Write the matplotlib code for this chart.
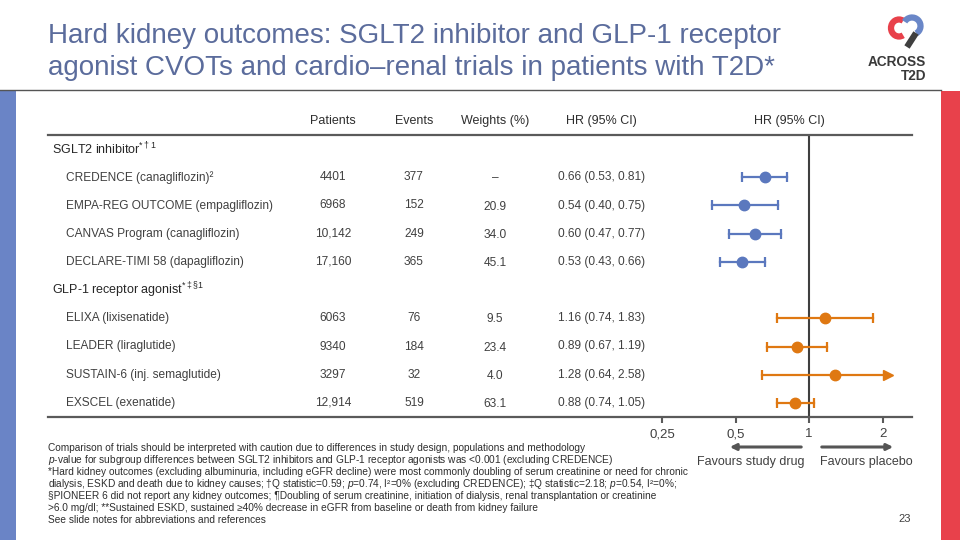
import numpy as np
import matplotlib
matplotlib.use("Agg")
import matplotlib.pyplot as plt
from matplotlib import transforms
from matplotlib.patches import Rectangle, Arc

plt.rcParams['font.family'] = ['Liberation Sans', 'DejaVu Sans']
plt.rcParams['mathtext.fontset'] = 'custom'
plt.rcParams['mathtext.rm'] = 'Liberation Sans'
plt.rcParams['mathtext.it'] = 'Liberation Sans:italic'
plt.rcParams['mathtext.bf'] = 'Liberation Sans:bold'

# ---------------- data ----------------
groups = [r"SGLT2 inhibitor$^{*\dagger 1}$", r"GLP-1 receptor agonist$^{*\ddagger\S 1}$"]
sglt2_trials = ["CREDENCE (canagliflozin)²", "EMPA-REG OUTCOME (empagliflozin)",
                "CANVAS Program (canagliflozin)", "DECLARE-TIMI 58 (dapagliflozin)"]
glp1_trials = ["ELIXA (lixisenatide)", "LEADER (liraglutide)",
               "SUSTAIN-6 (inj. semaglutide)", "EXSCEL (exenatide)"]
patients = [4401, 6968, 10142, 17160, 6063, 9340, 3297, 12914]
events = [377, 152, 249, 365, 76, 184, 32, 519]
weights = [None, 20.9, 34.0, 45.1, 9.5, 23.4, 4.0, 63.1]
hr = [0.66, 0.54, 0.60, 0.53, 1.16, 0.89, 1.28, 0.88]
ci_lo = [0.53, 0.40, 0.47, 0.43, 0.74, 0.67, 0.64, 0.74]
ci_hi = [0.81, 0.75, 0.77, 0.66, 1.83, 1.19, 2.58, 1.05]
x_clip = 2.1
ticks = [0.25, 0.5, 1, 2]
tick_labels = ["0,25", "0,5", "1", "2"]
headers = ["Patients", "Events", "Weights (%)", "HR (95% CI)"]

BLUE = '#5B78BE'
ORANGE = '#DF7812'
DARK = '#3F3F3F'
TXT = '#404040'
TITLE = '#5B6C9C'

fig = plt.figure(figsize=(9.6, 5.4), dpi=100)

# background canvas in pixel coordinates
bg = fig.add_axes([0, 0, 1, 1])
bg.set_xlim(0, 960)
bg.set_ylim(540, 0)
bg.axis('off')

bg.add_patch(Rectangle((0, 91), 16, 449, color='#6A84C6', lw=0))
bg.add_patch(Rectangle((941, 91), 19, 449, color='#E8414B', lw=0))
bg.plot([0, 941], [90, 90], color='#555555', lw=1.0)

bg.text(48, 36, "Hard kidney outcomes: SGLT2 inhibitor and GLP-1 receptor",
        fontsize=20, color=TITLE, va='center', ha='left')
bg.text(48, 68, "agonist CVOTs and cardio\u2013renal trials in patients with T2D*",
        fontsize=20, color=TITLE, va='center', ha='left')

# logo
bg.add_patch(Arc((899, 28), 16, 17, theta1=60, theta2=300, color='#E8414B', lw=4.5))
bg.add_patch(Arc((912, 26), 17, 17, theta1=-150, theta2=60, color='#6A87C8', lw=4.5))
bg.plot([916, 907], [33, 47], color='#3F3F3F', lw=4.5, solid_capstyle='butt')
bg.text(926, 62, "ACROSS", fontsize=9.8, fontweight='bold', color='#3A3A3A',
        ha='right', va='center', family=['Liberation Sans Narrow', 'Liberation Sans'])
bg.text(926, 76, "T2D", fontsize=9.8, fontweight='bold', color='#3A3A3A',
        ha='right', va='center', family=['Liberation Sans Narrow', 'Liberation Sans'])

# ---------------- forest axes ----------------
ax = fig.add_axes([48 / 960, 1 - 417 / 540, 864 / 960, 282 / 540])
ax.patch.set_alpha(0)
ax.set_xscale('log')
ax.set_xlim(2 ** ((48 - 809) / 73.5), 2 ** ((912 - 809) / 73.5))
ax.set_ylim(9.5, -0.5)
for s in ['left', 'right']:
    ax.spines[s].set_visible(False)
for s in ['top', 'bottom']:
    ax.spines[s].set_color('#5A5A5A')
    ax.spines[s].set_linewidth(1.6)
ax.set_yticks([])
ax.set_xticks(ticks)
ax.set_xticklabels(tick_labels)
ax.minorticks_off()
ax.tick_params(axis='x', direction='out', length=4, width=1.5, color='#5A5A5A',
               labelsize=9.5, labelcolor=TXT, pad=4)
ax.axvline(1, color=DARK, lw=1.5)

trials = sglt2_trials + glp1_trials
rows = [1, 2, 3, 4, 6, 7, 8, 9]
colors = [BLUE] * 4 + [ORANGE] * 4

for i, y in enumerate(rows):
    c = colors[i]
    hi = min(ci_hi[i], x_clip)
    ax.plot([ci_lo[i], hi], [y, y], color=c, lw=1.6, zorder=3)
    ax.plot([ci_lo[i]], [y], marker='|', ms=7, mew=1.6, color=c, zorder=3)
    if ci_hi[i] > x_clip:
        ax.plot([x_clip], [y], marker='>', ms=7, color=c, zorder=3)
    else:
        ax.plot([hi], [y], marker='|', ms=7, mew=1.6, color=c, zorder=3)
    ax.plot([hr[i]], [y], marker='o', ms=7.5, color=c, mec=c, zorder=4)

# table text
tr = transforms.blended_transform_factory(bg.transData, ax.transData)
col_x = [333, 414, 495, 601]
for h, x in zip(headers, col_x):
    ax.text(x, -1, h, transform=tr, ha='center', va='center', fontsize=9,
            color='#2E2E2E', clip_on=False)
ax.text(789, -1, "HR (95% CI)", transform=tr, ha='center', va='center', fontsize=9,
        color='#2E2E2E', clip_on=False)

ax.text(52, 0, groups[0], transform=tr, ha='left', va='center', fontsize=9,
        color='#262626')
ax.text(52, 5, groups[1], transform=tr, ha='left', va='center', fontsize=9,
        color='#262626')

def fmt_n(n):
    return f"{n:,}" if n >= 10000 else str(n)

for i, y in enumerate(rows):
    ax.text(66, y, trials[i], transform=tr, ha='left', va='center', fontsize=8.6, color=TXT)
    ax.text(333, y, fmt_n(patients[i]), transform=tr, ha='center', va='center', fontsize=8.6, color=TXT)
    ax.text(414, y, str(events[i]), transform=tr, ha='center', va='center', fontsize=8.6, color=TXT)
    w = "\u2013" if weights[i] is None else f"{weights[i]:.1f}"
    ax.text(495, y + 0.04, w, transform=tr, ha='center', va='center', fontsize=8.6, color=TXT)
    ax.text(558, y, f"{hr[i]:.2f} ({ci_lo[i]:.2f}, {ci_hi[i]:.2f})", transform=tr,
            ha='left', va='center', fontsize=8.6, color=TXT)

# favours arrows
bg.annotate("", xy=(727, 447), xytext=(804, 447),
            arrowprops=dict(arrowstyle='-|>', color='#555555', lw=2.2, mutation_scale=9))
bg.annotate("", xy=(896, 447), xytext=(819, 447),
            arrowprops=dict(arrowstyle='-|>', color='#555555', lw=2.2, mutation_scale=9))
bg.text(751, 462, "Favours study drug", ha='center', va='center', fontsize=9, color=TXT)
bg.text(866, 462, "Favours placebo", ha='center', va='center', fontsize=9, color=TXT)
bg.text(905, 519, "23", ha='center', va='center', fontsize=8, color=TXT)

# footnotes
foot = [
    "Comparison of trials should be interpreted with caution due to differences in study design, populations and methodology",
    r"$p$-value for subgroup differences between SGLT2 inhibitors and GLP-1 receptor agonists was <0.001 (excluding CREDENCE)",
    "*Hard kidney outcomes (excluding albuminuria, including eGFR decline) were most commonly doubling of serum creatinine or need for chronic",
    r"dialysis, ESKD and death due to kidney causes; †Q statistic=0.59; $p$=0.74, I²=0% (excluding CREDENCE); ‡Q statistic=2.18; $p$=0.54, I²=0%;",
    "§PIONEER 6 did not report any kidney outcomes; ¶Doubling of serum creatinine, initiation of dialysis, renal transplantation or creatinine",
    ">6.0 mg/dl; **Sustained ESKD, sustained ≥40% decrease in eGFR from baseline or death from kidney failure",
    "See slide notes for abbreviations and references",
]
for k, line in enumerate(foot):
    bg.text(48, 448 + 12 * k, line, ha='left', va='center', fontsize=7.3, color='#2E2E2E')

fig.savefig("out.png", dpi=100)
